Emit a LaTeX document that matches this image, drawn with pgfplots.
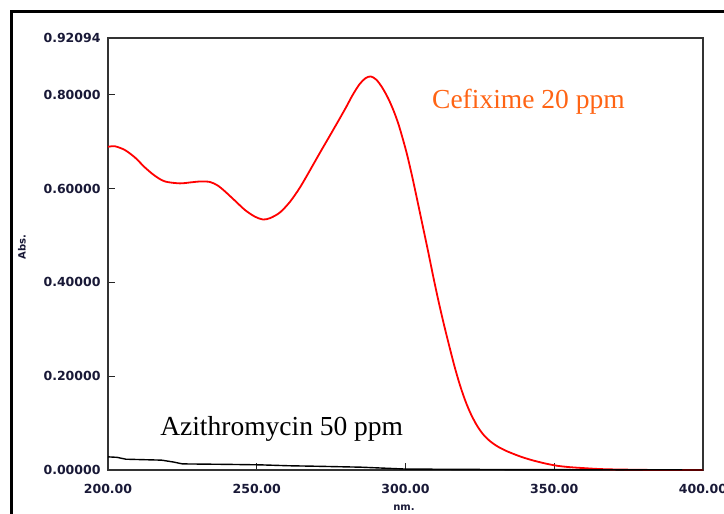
\documentclass[border=0pt]{standalone}
\usepackage{pgfplots}
\pgfplotsset{compat=1.18}
\usepackage{fontspec}
\setmainfont{Liberation Serif}
\newfontfamily\tickfont{DejaVu Sans}
\definecolor{tickcol}{RGB}{25,25,55}
\definecolor{cefcol}{RGB}{255,100,20}
\begin{document}
\begin{tikzpicture}[x=1pt,y=1pt]
\useasboundingbox (0,0) rectangle (724,514);
\clip (0,0) rectangle (724,514);
\fill[white] (0,0) rectangle (724,514);
\draw[line width=3pt] (11.5,-10) -- (11.5,502.5) -- (740,502.5);
\begin{axis}[
  at={(108pt,44pt)}, anchor=south west,
  scale only axis, width=595pt, height=432pt,
  xmin=200, xmax=400, ymin=0, ymax=0.92094,
  axis line style={black!80, line width=1.6pt},
  xtick={200,250,300,350,400},
  xticklabels={200.00,250.00,300.00,350.00,400.00},
  ytick={0,0.2,0.4,0.6,0.8,0.92094},
  yticklabels={0.00000,0.20000,0.40000,0.60000,0.80000,0.92094},
  xtick pos=bottom, ytick pos=left,
  tick align=inside, major tick length=7pt,
  tick style={black!85, line width=1.2pt},
  ticklabel style={font=\tickfont\bfseries\fontsize{12.5}{14}\selectfont, text=tickcol, inner sep=0pt},
  yticklabel style={anchor=east, xshift=-7.3pt},
  xticklabel style={anchor=north, yshift=-14pt},
  clip=false,
]
\addplot[red, line width=1.8pt, smooth, tension=0.5] coordinates {
(200.0,0.689) (202.4,0.690) (205.7,0.682) (209.1,0.666) (212.4,0.645)
(215.8,0.627) (219.2,0.615) (224.2,0.611) (227.6,0.613) (230.9,0.615)
(234.3,0.614) (237.0,0.606) (239.3,0.594) (242.7,0.574) (246.1,0.554)
(249.4,0.540) (252.1,0.534) (254.5,0.537) (257.8,0.549) (261.2,0.572)
(264.5,0.602) (267.9,0.639) (271.3,0.677) (274.6,0.713) (277.5,0.745)
(280.0,0.773) (282.2,0.799) (284.5,0.822) (286.5,0.835) (288.3,0.839)
(290.2,0.832) (292.2,0.815) (294.2,0.792) (296.0,0.766) (297.6,0.738)
(299.0,0.708) (300.5,0.673) (302.2,0.627) (304.0,0.574) (305.8,0.520)
(307.6,0.466) (309.4,0.410) (311.2,0.357) (313.0,0.308) (314.8,0.262)
(316.6,0.218) (318.4,0.179) (320.2,0.146) (322.0,0.119) (324.0,0.095)
(326.1,0.076) (328.5,0.061) (331.0,0.050) (334.1,0.040) (338.5,0.029)
(342.5,0.021) (346.9,0.014) (351.0,0.009) (355.3,0.006) (360.0,0.004)
(365.4,0.002) (372.0,0.001) (385.0,0.000) (400.0,0.000)
};
\addplot[black, line width=1.4pt] coordinates {
(200,0.028) (203,0.027) (206,0.023) (212,0.022) (218,0.021) (222,0.017)
(225,0.013) (240,0.012) (251,0.011) (261,0.009) (270,0.008) (285,0.006)
(300,0.002) (330,0.001) (400,0.000)
};
\node[anchor=base west, inner sep=0pt, text=cefcol, font=\fontsize{27.5}{30}\selectfont] at (axis cs:308.9,0.770) {Cefixime 20 ppm};
\node[anchor=base west, inner sep=0pt, text=black, font=\fontsize{27.5}{30}\selectfont] at (axis cs:217.5,0.0746) {Azithromycin 50 ppm};
\end{axis}
\node[rotate=90, inner sep=0pt, text=tickcol, font=\tickfont\bfseries\fontsize{10}{12}\selectfont] at (22,267) {Abs.};
\node[inner sep=0pt, text=tickcol, font=\tickfont\bfseries\fontsize{10}{12}\selectfont] at (404,6.5) {nm.};
\end{tikzpicture}
\end{document}
